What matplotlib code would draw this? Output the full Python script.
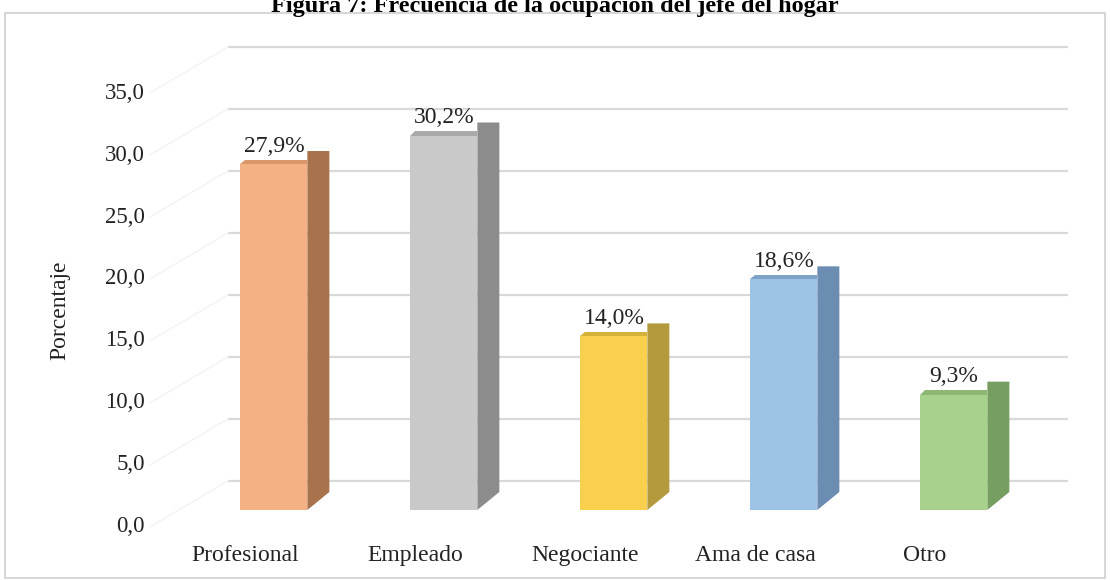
import matplotlib
matplotlib.use("Agg")
import matplotlib.pyplot as plt
import matplotlib.patches as patches
from matplotlib.patches import Polygon
import numpy as np

plt.rcParams['font.family'] = ['Liberation Serif', 'DejaVu Serif']

categories = ['Profesional', 'Empleado', 'Negociante', 'Ama de casa', 'Otro']
values = [27.9, 30.2, 14.0, 18.6, 9.3]
value_labels = ['27,9%', '30,2%', '14,0%', '18,6%', '9,3%']
yticks = [0, 5, 10, 15, 20, 25, 30, 35]
ytick_labels = ['0,0', '5,0', '10,0', '15,0', '20,0', '25,0', '30,0', '35,0']
title = 'Figura 7: Frecuencia de la ocupación del jefe del hogar'

front_cols = ['#F4B183', '#C9C9C9', '#F8D04E', '#9DC3E6', '#A9D18E']
side_cols = ['#A8734C', '#8C8C8C', '#B39A3C', '#6B8DB2', '#769E60']
top_cols = ['#D9976A', '#A9A9A9', '#D4B23A', '#7FA3C8', '#8CB873']

W, H = 1110, 580
fig = plt.figure(figsize=(W / 100, H / 100), dpi=100)
ax = fig.add_axes([0, 0, 1, 1])
ax.axis('off')

# pixel scale: 170 px per category, 12.4 px per percent, front floor 0 at 53 px from bottom
ax.set_xlim(-245 / 170, (W - 245) / 170)
ax.set_ylim(-53 / 12.4, (H - 53) / 12.4)

# depth projection (front of floor -> back wall)
DX, DY = 78 / 170, 46 / 12.4
x0 = -0.56          # left edge of the floor
x_right = 4.38      # right end (front)

# back wall gridlines and faint side wall lines
for k, t in enumerate(yticks):
    ax.plot([x0 + DX, x_right + DX], [t + DY, t + DY], color='#D9D9D9', lw=1.6,
            solid_capstyle='butt', zorder=1)
    ax.plot([x0, x0 + DX], [t, t + DY], color='#F3F3F3', lw=1.0, zorder=1)
    ax.text(x0 - 0.03, t, ytick_labels[k], ha='right', va='center',
            fontsize=16.5, color='#222222')

# bars
bw = 67 / 170
d_front = 0.37
bx, by = d_front * DX, d_front * DY
sx = 22 / 170
s_top, s_bot = 13 / 12.4, 18 / 12.4
for i, v in enumerate(values):
    xl = i + bx - bw / 2
    xr = xl + bw
    b = by
    t = by + v
    ax.add_patch(Polygon([(xr, b), (xr + sx, b + s_bot), (xr + sx, t + s_top), (xr, t + s_top)],
                         closed=True, facecolor=side_cols[i], edgecolor='none', zorder=3))
    ax.add_patch(patches.Rectangle((xl, b), bw, v, facecolor=front_cols[i],
                                   edgecolor='none', zorder=4))
    ax.add_patch(Polygon([(xl, t), (xr, t), (xr, t + 0.35), (xl + 0.03, t + 0.35)],
                         closed=True, facecolor=top_cols[i], edgecolor='none', zorder=4))
    ax.text(i + bx, t + 0.6, value_labels[i], ha='center', va='bottom',
            fontsize=17, color='#222222', zorder=5)
    ax.text(i, -2.3, categories[i], ha='center', va='center', fontsize=17, color='#222222')

ax.text(-1.09, 17.5, 'Porcentaje', rotation=90, ha='center', va='center',
        fontsize=17, color='#222222')

# chart border
fig.add_artist(patches.Rectangle((5 / W, 2 / H), 1100 / W, 565 / H, transform=fig.transFigure,
                                 facecolor='none', edgecolor='#D0D0D0', lw=1.2))

fig.text(0.5, 1 - 12 / H, title, ha='center', va='baseline', fontsize=17.5,
         fontweight='bold', color='black')

plt.savefig('out.png', dpi=100)
